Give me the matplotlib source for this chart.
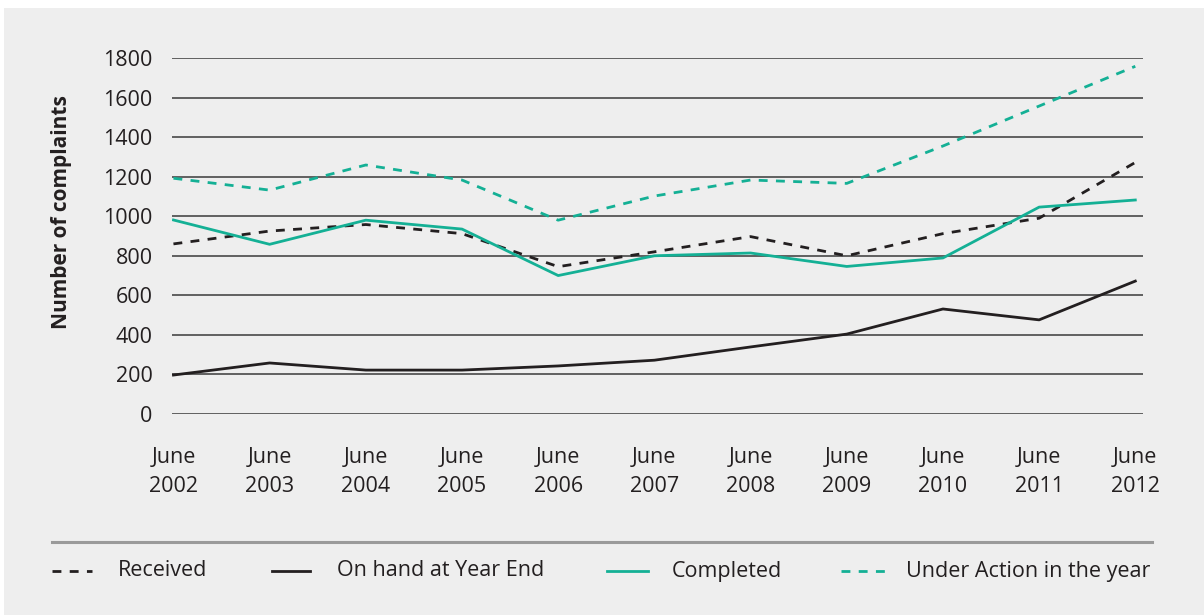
import matplotlib
matplotlib.use("Agg")
import matplotlib.pyplot as plt
from matplotlib.patches import Rectangle
from matplotlib.lines import Line2D

years = ["June\n2002", "June\n2003", "June\n2004", "June\n2005", "June\n2006", "June\n2007",
         "June\n2008", "June\n2009", "June\n2010", "June\n2011", "June\n2012"]
received = [860, 925, 958, 912, 745, 820, 897, 800, 912, 990, 1272]
on_hand = [197, 258, 222, 222, 243, 272, 339, 404, 531, 476, 672]
completed = [981, 858, 980, 935, 700, 800, 814, 746, 789, 1046, 1082]
under_action = [1192, 1132, 1259, 1183, 980, 1102, 1183, 1166, 1355, 1557, 1758]
yticks = [0, 200, 400, 600, 800, 1000, 1200, 1400, 1600, 1800]

BLACK = "#231f20"
TEAL = "#14b095"
BG = "#eeeeee"

plt.rcParams["font.family"] = ["Open Sans", "DejaVu Sans"]

W, H = 1204, 615
fig = plt.figure(figsize=(W / 100, H / 100), dpi=100, facecolor="white")
fig.patches.append(Rectangle((4 / W, 0), 1 - 4 / W, 1 - 8 / H, transform=fig.transFigure,
                             facecolor=BG, edgecolor="none", zorder=-10))

ax = fig.add_axes([172 / W, 1 - 414 / H, 971 / W, 356 / H])
ax.set_facecolor("none")
ax.set_zorder(1)
x = list(range(len(years)))

lw = 2.0
DASH = (3.2, 3)
ax.plot(x, received, color=BLACK, lw=lw, dashes=DASH, zorder=3)
ax.plot(x, on_hand, color=BLACK, lw=lw, zorder=3)
ax.plot(x, completed, color=TEAL, lw=lw, zorder=3)
ax.plot(x, under_action, color=TEAL, lw=lw, dashes=DASH, zorder=3)

ax.set_xlim(-0.015, 10.08)
ax.set_ylim(0, 1800)
ax.set_yticks(yticks)
ax.set_yticklabels([str(v) for v in yticks], fontsize=15.5, color=BLACK)
ax.set_xticks(x)
ax.set_xticklabels(years, fontsize=15.5, color=BLACK, linespacing=1.45)
ax.tick_params(axis="both", length=0)
ax.tick_params(axis="y", pad=14)
ax.tick_params(axis="x", pad=24)
for s in ax.spines.values():
    s.set_visible(False)
ax.grid(axis="y", color="#555555", lw=1.3, zorder=1)
ax.set_axisbelow(True)

fig.text(62 / W, 1 - 212 / H, "Number of complaints", rotation=90, fontsize=15,
         fontweight="bold", color=BLACK, ha="center", va="center")

# legend separator
fig.add_artist(Line2D([52 / W, 1152 / W], [1 - 542 / H, 1 - 542 / H], color="#9a9a9a", lw=2.2,
                      transform=fig.transFigure))

ly = 1 - 571 / H
entries = [
    (52, 92, 118, "Received", BLACK, DASH),
    (272, 310, 337, "On hand at Year End", BLACK, None),
    (607, 648, 672, "Completed", TEAL, None),
    (841, 885, 906, "Under Action in the year", TEAL, DASH),
]
for x0, x1, tx, label, col, dash in entries:
    ln = Line2D([x0 / W, x1 / W], [ly, ly], color=col, lw=lw, transform=fig.transFigure)
    if dash:
        ln.set_dashes(dash)
    fig.add_artist(ln)
    fig.text(tx / W, ly, label, fontsize=15.5, color=BLACK, ha="left", va="center")

fig.savefig("out.png", dpi=100, facecolor="white")
